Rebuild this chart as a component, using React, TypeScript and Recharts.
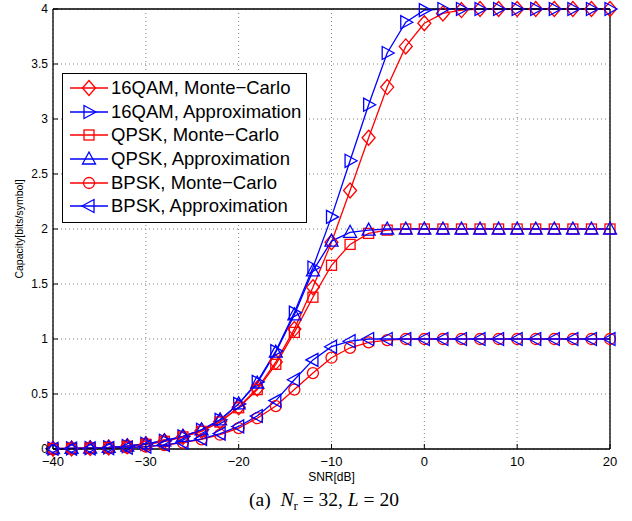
import React from 'react';
import { LineChart, Line, XAxis, YAxis, CartesianGrid, Legend } from 'recharts';

const snr = [-40, -38, -36, -34, -32, -30, -28, -26, -24, -22, -20, -18, -16, -14, -12, -10, -8, -6, -4, -2, 0, 2, 4, 6, 8, 10, 12, 14, 16, 18, 20];

const qam16Mc = [0.003, 0.005, 0.008, 0.014, 0.025, 0.043, 0.07, 0.11, 0.165, 0.25, 0.38, 0.55, 0.79, 1.09, 1.47, 1.88, 2.35, 2.83, 3.29, 3.66, 3.87, 3.96, 3.99, 4, 4, 4, 4, 4, 4, 4, 4];
const qam16Approx = [0.003, 0.005, 0.008, 0.014, 0.026, 0.046, 0.075, 0.115, 0.175, 0.265, 0.41, 0.61, 0.89, 1.24, 1.65, 2.11, 2.62, 3.13, 3.6, 3.88, 3.99, 4, 4, 4, 4, 4, 4, 4, 4, 4, 4];
const qpskMc = [0.003, 0.005, 0.008, 0.014, 0.025, 0.043, 0.07, 0.11, 0.16, 0.245, 0.375, 0.54, 0.77, 1.06, 1.38, 1.67, 1.86, 1.96, 1.99, 2, 2, 2, 2, 2, 2, 2, 2, 2, 2, 2, 2];
const qpskApprox = [0.003, 0.005, 0.008, 0.014, 0.026, 0.046, 0.075, 0.115, 0.175, 0.265, 0.41, 0.6, 0.88, 1.22, 1.62, 1.89, 1.97, 1.99, 2, 2, 2, 2, 2, 2, 2, 2, 2, 2, 2, 2, 2];
const bpskMc = [0.002, 0.003, 0.005, 0.008, 0.013, 0.022, 0.036, 0.057, 0.088, 0.13, 0.19, 0.28, 0.39, 0.54, 0.69, 0.83, 0.92, 0.97, 0.99, 1, 1, 1, 1, 1, 1, 1, 1, 1, 1, 1, 1];
const bpskApprox = [0.002, 0.003, 0.005, 0.008, 0.013, 0.022, 0.037, 0.06, 0.092, 0.14, 0.205, 0.3, 0.44, 0.63, 0.81, 0.93, 0.98, 1, 1, 1, 1, 1, 1, 1, 1, 1, 1, 1, 1, 1, 1];

const xTicks = [-40, -30, -20, -10, 0, 10, 20];
const yTicks = [0, 0.5, 1, 1.5, 2, 2.5, 3, 3.5, 4];

const RED = '#ff0000';
const BLUE = '#0000ff';
const FONT = '"Liberation Sans", Arial, Helvetica, sans-serif';

type Shape = 'diamond' | 'right' | 'square' | 'up' | 'circle' | 'left';

const series: { key: string; name: string; color: string; shape: Shape; values: number[] }[] = [
  { key: 'qam16Mc', name: '16QAM, Monte\u2212Carlo', color: RED, shape: 'diamond', values: qam16Mc },
  { key: 'qam16Approx', name: '16QAM, Approximation', color: BLUE, shape: 'right', values: qam16Approx },
  { key: 'qpskMc', name: 'QPSK, Monte\u2212Carlo', color: RED, shape: 'square', values: qpskMc },
  { key: 'qpskApprox', name: 'QPSK, Approximation', color: BLUE, shape: 'up', values: qpskApprox },
  { key: 'bpskMc', name: 'BPSK, Monte\u2212Carlo', color: RED, shape: 'circle', values: bpskMc },
  { key: 'bpskApprox', name: 'BPSK, Approximation', color: BLUE, shape: 'left', values: bpskApprox },
];

const data = snr.map((s, i) => {
  const row: Record<string, number> = { snr: s };
  series.forEach((sr) => {
    row[sr.key] = sr.values[i];
  });
  return row;
});

function markerEl(shape: Shape, cx: number, cy: number, color: string, key?: string) {
  const common = { stroke: color, fill: 'none', strokeWidth: 1.3 };
  switch (shape) {
    case 'diamond':
      return <path key={key} d={`M${cx},${cy - 7.5}L${cx + 6.5},${cy}L${cx},${cy + 7.5}L${cx - 6.5},${cy}Z`} {...common} />;
    case 'right':
      return <path key={key} d={`M${cx + 7},${cy}L${cx - 5},${cy - 6.5}L${cx - 5},${cy + 6.5}Z`} {...common} />;
    case 'left':
      return <path key={key} d={`M${cx - 7},${cy}L${cx + 5},${cy - 6.5}L${cx + 5},${cy + 6.5}Z`} {...common} />;
    case 'up':
      return <path key={key} d={`M${cx},${cy - 7}L${cx + 6.5},${cy + 5}L${cx - 6.5},${cy + 5}Z`} {...common} />;
    case 'square':
      return <rect key={key} x={cx - 5} y={cy - 5} width={10} height={10} {...common} />;
    default:
      return <circle key={key} cx={cx} cy={cy} r={5.5} {...common} />;
  }
}

const makeDot = (shape: Shape, color: string) => (props: any) => {
  const { cx, cy, index } = props;
  if (cx == null || cy == null) return <g key={`n-${index}`} />;
  return markerEl(shape, cx, cy, color, `${shape}-${index}`);
};

const fmt = (v: number) => String(v).replace('-', '\u2212');

const LegendBox = () => (
  <div
    style={{
      border: '1px solid #000',
      background: '#fff',
      width: 243,
      height: 146,
      boxSizing: 'content-box',
      paddingTop: 2,
      fontFamily: FONT,
    }}
  >
    {series.map((s) => (
      <div key={s.key} style={{ display: 'flex', alignItems: 'center', height: 23.7 }}>
        <svg width={48} height={22} style={{ flex: 'none' }}>
          <line x1={7} y1={11} x2={45} y2={11} stroke={s.color} strokeWidth={1.3} />
          {markerEl(s.shape, 26, 11, s.color)}
        </svg>
        <span style={{ fontSize: 18.5, color: '#000', whiteSpace: 'nowrap', lineHeight: '22px' }}>{s.name}</span>
      </div>
    ))}
  </div>
);

export default function App() {
  return (
    <div style={{ position: 'absolute', left: 0, top: 0, width: 632, height: 521, background: '#fff' }}>
      <LineChart width={632} height={521} data={data} margin={{ top: 8, right: 21, left: 0, bottom: 42 }}>
        <CartesianGrid stroke="#808080" strokeDasharray="1 3" strokeWidth={1} />
        <XAxis
          dataKey="snr"
          type="number"
          domain={[-40, 20]}
          ticks={xTicks}
          tickFormatter={fmt}
          height={30}
          stroke="#000"
          tickSize={-5}
          tickMargin={12.5}
          tick={{ fill: '#000', fontSize: 13, fontFamily: FONT }}
          axisLine={{ stroke: '#000', strokeWidth: 1.3 }}
          label={{ value: 'SNR[dB]', position: 'insideBottom', offset: -2, fill: '#000', fontSize: 12, fontFamily: FONT }}
        />
        <XAxis
          xAxisId="top"
          orientation="top"
          dataKey="snr"
          type="number"
          domain={[-40, 20]}
          ticks={xTicks}
          height={1}
          stroke="#000"
          tickSize={-5}
          tick={false}
          axisLine={{ stroke: '#000', strokeWidth: 1.3 }}
        />
        <YAxis
          type="number"
          domain={[0, 4]}
          ticks={yTicks}
          tickFormatter={fmt}
          width={53}
          stroke="#000"
          tickSize={-5}
          tickMargin={10}
          tick={{ fill: '#000', fontSize: 12, fontFamily: FONT }}
          axisLine={{ stroke: '#000', strokeWidth: 1.3 }}
          label={{ value: 'Capacity[bits/symbol]', angle: -90, position: 'center', dx: -7, fill: '#000', fontSize: 10.5, fontFamily: FONT }}
        />
        <YAxis
          yAxisId="right"
          orientation="right"
          type="number"
          domain={[0, 4]}
          ticks={yTicks}
          width={1}
          stroke="#000"
          tickSize={-5}
          tick={false}
          axisLine={{ stroke: '#000', strokeWidth: 1.3 }}
        />
        {series.map((s) => (
          <Line
            key={s.key}
            dataKey={s.key}
            name={s.name}
            stroke={s.color}
            strokeWidth={1.3}
            dot={makeDot(s.shape, s.color)}
            activeDot={false}
            isAnimationActive={false}
            type="linear"
          />
        ))}
        <Legend
          layout="horizontal"
          verticalAlign="middle"
          align="center"
          content={() => <LegendBox />}
          wrapperStyle={{ position: 'absolute', left: 62, top: 73, width: 'auto', height: 'auto' }}
        />
      </LineChart>
      <div
        style={{
          position: 'absolute',
          left: 0,
          width: 648,
          top: 489,
          textAlign: 'center',
          fontFamily: '"Liberation Serif", "Times New Roman", serif',
          fontSize: 19.5,
          color: '#000',
          whiteSpace: 'nowrap',
        }}
      >
        (a)&nbsp;&nbsp;<i>N</i>
        <sub style={{ fontSize: 13, verticalAlign: '-4px' }}>r</sub> = 32, <i>L</i> = 20
      </div>
    </div>
  );
}
